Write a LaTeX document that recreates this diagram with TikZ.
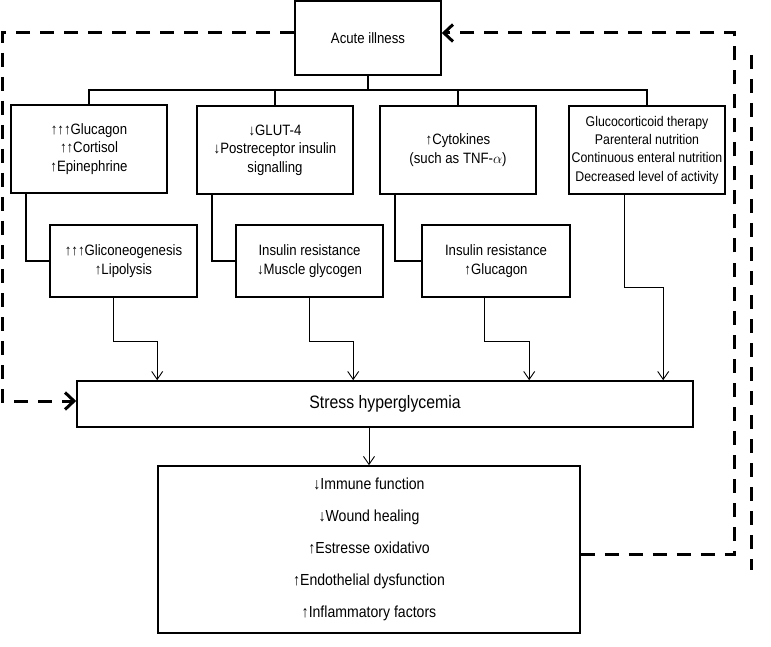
\documentclass[tikz,border=0pt]{standalone}
\usepackage{fontspec}
\setmainfont{Liberation Sans}[FakeStretch=0.88]
\usetikzlibrary{arrows.meta}

\begin{document}
\begin{tikzpicture}[x=1pt,y=-1pt,
square/.style={
% The shape:
rectangle,
draw=black,
line width=1.6pt,
minimum width=156pt,
minimum height=88pt,
align=center,
inner sep=1pt,
font=\fontsize{15}{18.5}\selectfont
},
subsquare/.style={
square,
minimum width=147pt,
minimum height=72pt,
font=\fontsize{15}{19}\selectfont
},
tree/.style={
line width=1.6pt
},
link/.style={
line width=0.9pt,
-{Straight Barb[length=8pt,width=11pt]}
},
feedback/.style={
line width=3pt,
dash pattern=on 14pt off 10pt,
-{Straight Barb[length=9pt,width=17pt]}
}
]
\useasboundingbox (0,0) rectangle (771,647);
% First row:
\node (acute) [square,minimum width=146pt,minimum height=74pt] at (368,38) {Acute illness};
\node (hormones) [square] at (89,149) {↑↑↑Glucagon\\↑↑Cortisol\\↑Epinephrine};
\node (glut) [square] at (275,150) {↓GLUT-4\\↓Postreceptor insulin\\signalling};
\node (cytokines) [square] at (458,150) {↑Cytokines\\(such as TNF-$\alpha$)};
\node (therapy) [square,font=\fontsize{14}{18.3}\selectfont] at (647,150) {Glucocorticoid therapy\\Parenteral nutrition\\Continuous enteral nutrition\\Decreased level of activity};
% Second row:
\node (gluco) [subsquare] at (123.5,261) {↑↑↑Gliconeogenesis\\↑Lipolysis};
\node (resist1) [subsquare] at (309.5,261) {Insulin resistance\\↓Muscle glycogen};
\node (resist2) [subsquare,minimum width=148pt] at (496,261) {Insulin resistance\\↑Glucagon};
% Bottom:
\node (hyper) [square,minimum width=616pt,minimum height=46pt,font=\fontsize{18}{22}\selectfont] at (385,404) {Stress hyperglycemia};
\node (effects) [square,minimum width=422pt,minimum height=167pt,font=\fontsize{16}{32}\selectfont] at (369,549.5) {↓Immune function\\↓Wound healing\\↑Estresse oxidativo\\↑Endothelial dysfunction\\↑Inflammatory factors};
\coordinate (bus) at (368,90);
\coordinate (outtop) at (751,55);
\coordinate (outbot) at (751,570);

\draw[tree] (acute.south) -- (bus);
\draw[tree] (hormones.north) |- (bus) -| (therapy.north);
\draw[tree] (glut.north) -- (glut.north |- bus);
\draw[tree] (cytokines.north) -- (cytokines.north |- bus);
\draw[tree] ([xshift=16pt]hormones.south west) |- (gluco.west);
\draw[tree] ([xshift=16pt]glut.south west) |- (resist1.west);
\draw[tree] ([xshift=16pt]cytokines.south west) |- (resist2.west);

\draw[link] ([xshift=64pt]gluco.south west) -- ++(0,44) -| ([xshift=81pt]hyper.north west);
\draw[link] ([xshift=74pt]resist1.south west) -- ++(0,44) -| ([xshift=277pt]hyper.north west);
\draw[link] ([xshift=63pt]resist2.south west) -- ++(0,44) -| ([xshift=453pt]hyper.north west);
\draw[link] ([xshift=56pt]therapy.south west) -- ++(0,93) -| ([xshift=587pt]hyper.north west);
\draw[link] (hyper.south -| effects.north) -- (effects.north);

\draw[feedback] ([yshift=5pt]acute.west) -- ++(-292,0) |- ([yshift=3pt]hyper.west);
\draw[feedback] ([yshift=-5pt]effects.east) -- ++(154,0) |- ([yshift=5pt]acute.east);
\draw[feedback,-] (outtop) -- (outbot);
\end{tikzpicture}
\end{document}
